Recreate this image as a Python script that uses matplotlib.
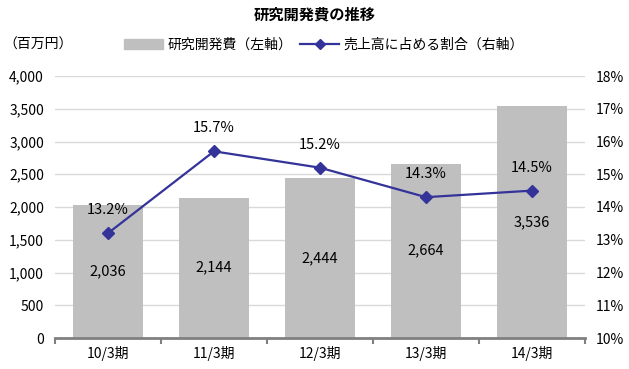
import matplotlib
matplotlib.use("Agg")
import matplotlib.pyplot as plt
from matplotlib.lines import Line2D
from matplotlib.patches import Patch

plt.rcParams['font.family'] = ['Noto Sans CJK JP', 'DejaVu Sans']

periods = ['10/3期', '11/3期', '12/3期', '13/3期', '14/3期']
rd_cost = [2036, 2144, 2444, 2664, 3536]
ratio = [13.2, 15.7, 15.2, 14.3, 14.5]

bar_color = '#BFBFBF'
line_color = '#333399'

fig = plt.figure(figsize=(6.29, 3.69), dpi=100)
ax = fig.add_axes([55 / 629, 1 - 338 / 369, 530 / 629, 262 / 369])
x = list(range(len(periods)))

ax.bar(x, rd_cost, width=0.66, color=bar_color, zorder=2)
ax.set_ylim(0, 4000)
ax.set_xlim(-0.5, len(periods) - 0.5)
ax.set_yticks(range(0, 4001, 500))
ax.set_yticklabels([f'{v:,}' for v in range(0, 4001, 500)], fontsize=10)
ax.grid(axis='y', color='#D9D9D9', linewidth=1, zorder=0)
ax.set_axisbelow(True)
for s in ['top', 'right', 'left']:
    ax.spines[s].set_visible(False)
ax.spines['bottom'].set_color('#808080')
ax.spines['bottom'].set_linewidth(2)
ax.tick_params(axis='y', length=0, pad=8)
ax.set_xticks(x)
ax.set_xticklabels(periods, fontsize=10)
ax.tick_params(axis='x', length=0, pad=6)
# minor ticks between categories
ax.set_xticks([i + 0.5 for i in range(-1, len(periods))], minor=True)
ax.tick_params(axis='x', which='minor', length=4, color='#808080', width=1.5)

for i, v in enumerate(rd_cost):
    ax.text(i, v / 2, f'{v:,}', ha='center', va='center', fontsize=10.5, zorder=4)

ax2 = ax.twinx()
ax2.set_ylim(10, 18)
ax2.set_yticks(range(10, 19))
ax2.set_yticklabels([f'{v}%' for v in range(10, 19)], fontsize=10)
ax2.tick_params(axis='y', length=0, pad=8)
for s in ['top', 'right', 'left', 'bottom']:
    ax2.spines[s].set_visible(False)
ax2.plot(x, ratio, color=line_color, linewidth=1.6, marker='D', markersize=6, zorder=3)
for i, v in enumerate(ratio):
    ax2.annotate(f'{v}%', (i, v), xytext=(0, 16.5), textcoords='offset points',
                 ha='center', va='center', fontsize=10.5)

fig.text(315 / 629, 1 - 15 / 369, '研究開発費の推移', ha='center', va='center',
         fontsize=11, fontweight='bold')
fig.text(3 / 629, 1 - 45 / 369, '（百万円）', ha='left', va='center', fontsize=10)

handles = [Patch(color=bar_color),
           Line2D([0], [0], color=line_color, linewidth=1.6, marker='D', markersize=5)]
fig.legend(handles, ['研究開発費（左軸）', '売上高に占める割合（右軸）'],
           loc='center', bbox_to_anchor=(0.515, 1 - 45 / 369), ncol=2, frameon=False,
           fontsize=10, handlelength=2.8, columnspacing=0.6, handletextpad=0.3)

fig.savefig('out.png', dpi=100)
